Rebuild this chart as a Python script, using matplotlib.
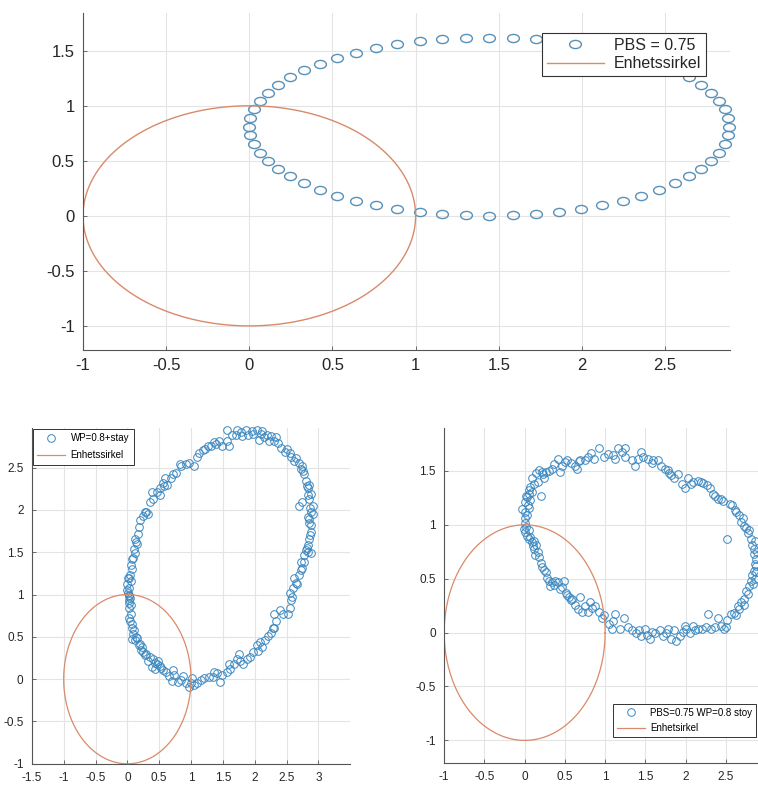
import numpy as np
import matplotlib
matplotlib.use('Agg')
import matplotlib.pyplot as plt
from matplotlib.path import Path

plt.rcParams['font.family'] = ['Liberation Sans', 'DejaVu Sans']

# Ovre figur: PBS = 0.75 (punkter lest av bildet)
topp_x = [2.886, 2.879, 2.858, 2.824, 2.776, 2.716, 2.643, 2.558, 2.463, 2.358, 2.245, 2.123, 1.995, 1.862, 1.725, 1.584,
          1.443, 1.302, 1.161, 1.024, 0.891, 0.763, 0.641, 0.528, 0.423, 0.328, 0.243, 0.170, 0.110, 0.062, 0.028, 0.007,
          0.000, 0.007, 0.028, 0.062, 0.110, 0.170, 0.243, 0.328, 0.423, 0.528, 0.641, 0.763, 0.891, 1.024, 1.161, 1.302,
          1.443, 1.584, 1.725, 1.862, 1.995, 2.123, 2.245, 2.358, 2.463, 2.558, 2.643, 2.716, 2.776, 2.824, 2.858, 2.879]
topp_y = [0.810, 0.889, 0.968, 1.045, 1.120, 1.192, 1.260, 1.324, 1.383, 1.436, 1.484, 1.524, 1.558, 1.585, 1.604, 1.616,
          1.620, 1.616, 1.604, 1.585, 1.558, 1.524, 1.484, 1.436, 1.383, 1.324, 1.260, 1.192, 1.120, 1.045, 0.968, 0.889,
          0.810, 0.731, 0.652, 0.575, 0.500, 0.428, 0.360, 0.296, 0.237, 0.184, 0.136, 0.096, 0.062, 0.035, 0.016, 0.004,
          0.000, 0.004, 0.016, 0.035, 0.062, 0.096, 0.136, 0.184, 0.237, 0.296, 0.360, 0.428, 0.500, 0.575, 0.652, 0.731]

# Nede til venstre: WP=0.8+stay
vstr_punkter = [
    (1.57, 2.95), (1.73, 2.95), (1.86, 2.94), (1.95, 2.93), (2.03, 2.95), (2.11, 2.93), (2.19, 2.89), (2.26, 2.87),
    (2.33, 2.86), (2.22, 2.81), (2.06, 2.83), (1.98, 2.90), (1.80, 2.87), (1.64, 2.89), (1.60, 2.75), (1.56, 2.81),
    (1.44, 2.82), (1.36, 2.80), (1.31, 2.76), (1.26, 2.75), (1.19, 2.71), (1.13, 2.67), (1.10, 2.63), (1.05, 2.52),
    (0.97, 2.56), (0.92, 2.54), (0.85, 2.52), (0.82, 2.54), (0.77, 2.44), (0.72, 2.42), (0.69, 2.38), (0.59, 2.38),
    (0.56, 2.32), (0.57, 2.28), (0.51, 2.26), (0.46, 2.21), (0.38, 2.21), (0.41, 2.13), (0.36, 2.09), (0.30, 1.97),
    (0.33, 1.95), (0.25, 1.93), (0.20, 1.88), (0.18, 1.80), (0.12, 1.66), (0.15, 1.60), (0.10, 1.54), (0.12, 1.49),
    (0.09, 1.43), (0.05, 1.35), (0.04, 1.23), (0.01, 1.19), (0.05, 1.16), (0.02, 1.08), (0.02, 1.00), (0.04, 0.96),
    (0.02, 0.90), (0.03, 0.84), (0.05, 0.77), (0.04, 0.69), (0.07, 0.61), (0.09, 0.53), (0.07, 0.47), (0.15, 0.49),
    (0.12, 0.46), (0.18, 0.40), (0.23, 0.38), (0.25, 0.32), (0.28, 0.28), (0.36, 0.26), (0.41, 0.24), (0.46, 0.18),
    (0.51, 0.16), (0.56, 0.11), (0.38, 0.14), (0.43, 0.12), (0.48, 0.22), (0.72, 0.11), (0.74, 0.05), (0.79, -0.03),
    (0.85, -0.01), (0.92, -0.05), (0.97, -0.09), (1.05, -0.07), (1.10, -0.05), (1.15, -0.01), (1.21, 0.01), (1.28, 0.03),
    (1.34, 0.03), (1.41, 0.07), (1.46, -0.03), (1.49, 0.05), (1.57, 0.09), (1.62, 0.12), (1.67, 0.18), (1.72, 0.24),
    (1.77, 0.22), (1.82, 0.18), (1.88, 0.24), (1.93, 0.26), (1.98, 0.32), (2.03, 0.40), (2.08, 0.44), (2.16, 0.46),
    (2.21, 0.51), (2.26, 0.55), (2.31, 0.61), (2.34, 0.69), (2.31, 0.77), (2.39, 0.82), (2.44, 0.77), (2.52, 0.77),
    (2.55, 0.84), (2.57, 0.94), (2.55, 1.02), (2.60, 1.08), (2.65, 1.14), (2.62, 1.19), (2.70, 1.23), (2.73, 1.29),
    (2.73, 1.39), (2.78, 1.47), (2.80, 1.53), (2.83, 1.58), (2.86, 1.66), (2.88, 1.74), (2.88, 1.82), (2.86, 1.89),
    (2.88, 1.97), (2.91, 2.05), (2.86, 2.13), (2.88, 2.19), (2.83, 2.26), (2.86, 2.30), (2.80, 2.34), (2.78, 2.42),
    (2.73, 2.48), (2.75, 2.52), (2.70, 2.56), (2.65, 2.61), (2.57, 2.63), (2.55, 2.67), (2.47, 2.69), (2.42, 2.73),
    (2.37, 2.79), (2.70, 2.05), (2.75, 2.09), (2.88, 1.49), (2.91, 1.95),
    (0.01, 1.02), (0.03, 0.98), (0.00, 1.05), (0.02, 0.93), (0.06, 0.88), (0.03, 0.72), (0.08, 0.65), (0.10, 0.58),
    (0.14, 0.50), (0.20, 0.42), (0.22, 0.35), (0.30, 0.30), (0.33, 0.22), (0.44, 0.19), (0.53, 0.13), (0.60, 0.08),
    (0.66, 0.04), (0.70, -0.02), (0.88, 0.04), (1.00, -0.04), (1.02, 0.01), (1.36, 0.08), (1.60, 0.18), (1.75, 0.30),
    (2.05, 0.33), (2.12, 0.38), (2.28, 0.60), (2.58, 0.97), (2.66, 1.12), (2.74, 1.31), (2.77, 1.38), (2.84, 1.50),
    (2.82, 1.55), (2.87, 1.70), (2.86, 1.85), (2.84, 1.92), (2.87, 2.02), (2.84, 2.18), (2.82, 2.28), (2.76, 2.46),
    (2.62, 2.58), (2.50, 2.72), (2.30, 2.82), (2.15, 2.86), (2.10, 2.90), (1.90, 2.88), (1.78, 2.92), (1.70, 2.88),
    (1.48, 2.76), (1.40, 2.78), (1.22, 2.72), (0.62, 2.30), (0.52, 2.18), (0.27, 1.98), (0.16, 1.72), (0.13, 1.62),
    (0.07, 1.42), (0.08, 1.30), (0.03, 1.20), (0.00, 1.12),
]

# Nede til hoyre: PBS=0.75 WP=0.8 stoy
hoyre_punkter = [
    (-0.03, 1.15), (0.01, 1.21), (0.03, 1.26), (0.05, 1.29), (0.07, 1.35), (0.09, 1.43), (0.14, 1.48), (0.18, 1.51),
    (0.22, 1.49), (0.20, 1.27), (0.01, 1.12), (0.03, 1.09), (0.05, 1.16), (0.07, 1.23), (0.09, 1.30), (0.00, 1.06),
    (0.01, 1.02), (-0.01, 0.96), (0.01, 0.93), (0.03, 0.90), (0.05, 0.87), (0.09, 0.84), (0.14, 0.81), (0.12, 0.85),
    (0.07, 0.89), (0.16, 0.75), (0.18, 0.70), (0.20, 0.65), (0.22, 0.61), (0.26, 0.56), (0.28, 0.51), (0.30, 0.48),
    (0.32, 0.43), (0.34, 0.47), (0.38, 0.48), (0.42, 0.47), (0.44, 0.40), (0.49, 0.48), (0.51, 0.37), (0.55, 0.33),
    (0.57, 0.30), (0.59, 0.31), (0.69, 0.33), (0.71, 0.19), (0.75, 0.25), (0.79, 0.19), (0.81, 0.28), (0.88, 0.25),
    (0.92, 0.19), (0.96, 0.14), (1.08, 0.03), (1.10, 0.11), (1.12, 0.17), (1.19, 0.03), (1.24, 0.14), (1.33, 0.02),
    (1.39, 0.00), (1.45, -0.03), (1.49, 0.03), (1.56, -0.06), (1.62, 0.00), (1.68, 0.02), (1.72, -0.03), (1.78, 0.03),
    (1.82, -0.06), (1.88, -0.08), (1.93, -0.03), (1.99, 0.06), (2.01, 0.03), (2.05, 0.00), (2.09, 0.06), (2.15, 0.03),
    (2.21, 0.03), (2.28, 0.17), (2.32, 0.03), (2.40, 0.14), (2.44, 0.06), (2.48, 0.03), (2.52, 0.12), (2.56, 0.17),
    (2.63, 0.16), (2.65, 0.25), (2.69, 0.28), (2.73, 0.31), (2.75, 0.39), (2.79, 0.43), (2.81, 0.48), (2.83, 0.53),
    (2.85, 0.57), (2.87, 0.62), (2.87, 0.68), (2.85, 0.73), (2.83, 0.81), (2.81, 0.87), (2.77, 0.92), (2.73, 0.99),
    (2.71, 1.06), (2.67, 1.09), (2.63, 1.12), (2.58, 1.18), (2.52, 0.87), (2.46, 1.22), (2.44, 1.24), (2.40, 1.24),
    (2.34, 1.29), (2.30, 1.34), (2.26, 1.37), (2.19, 1.40), (2.15, 1.41), (2.09, 1.40), (2.03, 1.43), (1.99, 1.34),
    (1.95, 1.38), (1.86, 1.43), (1.82, 1.46), (1.78, 1.51), (1.74, 1.52), (1.70, 1.55), (1.66, 1.60), (1.60, 1.60),
    (1.53, 1.61), (1.47, 1.63), (1.45, 1.68), (1.37, 1.55), (1.33, 1.60), (1.25, 1.63), (1.21, 1.68), (1.16, 1.71),
    (1.25, 1.71), (1.12, 1.61), (1.04, 1.66), (0.98, 1.63), (0.92, 1.71), (0.86, 1.61), (0.79, 1.63), (0.75, 1.60),
    (0.69, 1.60), (0.65, 1.52), (0.63, 1.55), (0.57, 1.57), (0.53, 1.60), (0.47, 1.55), (0.44, 1.49), (0.42, 1.61),
    (0.34, 1.52), (0.26, 1.49), (0.24, 1.43),
    (0.04, 1.18), (0.02, 0.98), (0.06, 0.95), (0.10, 0.80), (0.11, 0.78), (0.13, 0.72), (0.24, 0.58), (0.36, 0.44),
    (0.46, 0.42), (0.53, 0.35), (0.62, 0.26), (0.66, 0.22), (0.84, 0.23), (0.98, 0.16), (1.05, 0.08), (1.28, 0.05),
    (1.42, 0.02), (1.52, -0.02), (1.58, 0.01), (1.76, 0.00), (1.85, 0.02), (1.97, 0.01), (2.12, 0.02), (2.25, 0.05),
    (2.36, 0.05), (2.50, 0.05), (2.60, 0.18), (2.67, 0.22), (2.72, 0.26), (2.77, 0.36), (2.84, 0.45), (2.86, 0.50),
    (2.88, 0.56), (2.86, 0.64), (2.89, 0.75), (2.85, 0.78), (2.86, 0.85), (2.79, 0.95), (2.75, 0.97), (2.69, 1.03),
    (2.61, 1.14), (2.55, 1.19), (2.37, 1.27), (2.22, 1.39), (2.07, 1.38), (1.91, 1.47), (1.80, 1.48), (1.58, 1.57),
    (1.41, 1.61), (1.10, 1.65), (0.83, 1.67), (0.67, 1.59), (0.50, 1.58), (0.37, 1.56), (0.30, 1.50), (0.23, 1.47),
    (0.16, 1.40), (0.12, 1.38), (0.06, 1.32), (0.02, 1.27),
]

# aksemerker
topp_xticks = [-1, -0.5, 0, 0.5, 1, 1.5, 2, 2.5]
topp_yticks = [-1, -0.5, 0, 0.5, 1, 1.5]
vstr_xticks = [-1.5, -1, -0.5, 0, 0.5, 1, 1.5, 2, 2.5, 3]
vstr_yticks = [-1, -0.5, 0, 0.5, 1, 1.5, 2, 2.5]
hoyre_xticks = [-1, -0.5, 0, 0.5, 1, 1.5, 2, 2.5]
hoyre_yticks = [-1, -0.5, 0, 0.5, 1, 1.5]

BLA_TOPP = '#5891b8'
BLA = '#3b87bf'
ORANSJE = '#d98a6a'

def etikett(v):
    return ('%g' % v).replace('\u2212', '-')

def stil(ax, xt, yt, fs):
    ax.set_xticks(xt)
    ax.set_xticklabels([etikett(v) for v in xt])
    ax.set_yticks(yt)
    ax.set_yticklabels([etikett(v) for v in yt])
    ax.tick_params(direction='in', length=3, width=0.6, colors='#555555', labelcolor='#262626',
                   labelsize=fs, pad=6)
    ax.grid(True, color='#e4e4e4', linewidth=0.8)
    ax.set_axisbelow(True)
    for s in ['top', 'right']:
        ax.spines[s].set_visible(False)
    for s in ['left', 'bottom']:
        ax.spines[s].set_color('#555555')
        ax.spines[s].set_linewidth(0.8)

# enhetssirkel
t = np.linspace(0, 2 * np.pi, 300)
sx, sy = np.cos(t), np.sin(t)

fig = plt.figure(figsize=(7.58, 7.85), dpi=100)

# litt breddet sirkelmarkor som i originalen
c = Path.unit_circle()
ellipse = Path(c.vertices * np.array([1.45, 1.0]), c.codes)

ax1 = fig.add_axes([0.1095, 0.554, 0.8535, 0.429])
ax1.plot(topp_x, topp_y, linestyle='none', marker=ellipse, markersize=8.5, mfc='none',
         mec=BLA_TOPP, mew=1.0, label='PBS = 0.75', clip_on=False)
ax1.plot(sx, sy, color=ORANSJE, linewidth=1.0, label='Enhetssirkel')
ax1.set_xlim(-1, 2.89)
ax1.set_ylim(-1.22, 1.84)
stil(ax1, topp_xticks, topp_yticks, 12)
leg = ax1.legend(loc='upper right', bbox_to_anchor=(0.975, 0.965), fontsize=11.5, frameon=True,
                 fancybox=False, edgecolor='#333333', framealpha=1, handlelength=3.6,
                 borderpad=0.3, labelspacing=0.2, handletextpad=0.6, markerfirst=True)
leg.get_frame().set_linewidth(0.8)
for txt in leg.get_texts():
    txt.set_color('#262626')

# nede til venstre
ax2 = fig.add_axes([0.042, 0.027, 0.42, 0.428])
vx = [p[0] for p in vstr_punkter]
vy = [p[1] for p in vstr_punkter]
ax2.plot(vx, vy, linestyle='none', marker='o', markersize=5.5, mfc='none', mec=BLA, mew=0.7,
         label='WP=0.8+stay', clip_on=False)
ax2.plot(sx, sy, color=ORANSJE, linewidth=0.9, label='Enhetssirkel')
ax2.set_xlim(-1.5, 3.5)
ax2.set_ylim(-1, 2.97)
stil(ax2, vstr_xticks, vstr_yticks, 8.5)
leg2 = ax2.legend(loc='upper left', bbox_to_anchor=(0.0, 1.0), borderaxespad=0.1, fontsize=7,
                  frameon=True, fancybox=False, edgecolor='#333333', framealpha=1, handlelength=2.9,
                  borderpad=0.45, labelspacing=0.75, handletextpad=0.55)
leg2.get_frame().set_linewidth(0.7)

# nede til hoyre
ax3 = fig.add_axes([0.586, 0.028, 0.414, 0.427])
hx = [p[0] for p in hoyre_punkter]
hy = [p[1] for p in hoyre_punkter]
ax3.plot(hx, hy, linestyle='none', marker='o', markersize=5.5, mfc='none', mec=BLA, mew=0.7,
         label='PBS=0.75 WP=0.8 stoy')
ax3.plot(sx, sy, color=ORANSJE, linewidth=0.9, label='Enhetsirkel')
ax3.set_xlim(-1, 2.9)
ax3.set_ylim(-1.21, 1.9)
stil(ax3, hoyre_xticks, hoyre_yticks, 8.5)
leg3 = ax3.legend(loc='lower right', bbox_to_anchor=(0.994, 0.078), borderaxespad=0.0, fontsize=7,
                  frameon=True, fancybox=False, edgecolor='#333333', framealpha=1, handlelength=2.9,
                  borderpad=0.4, labelspacing=0.55, handletextpad=0.55)
leg3.get_frame().set_linewidth(0.7)

fig.savefig('out.png', dpi=100)
